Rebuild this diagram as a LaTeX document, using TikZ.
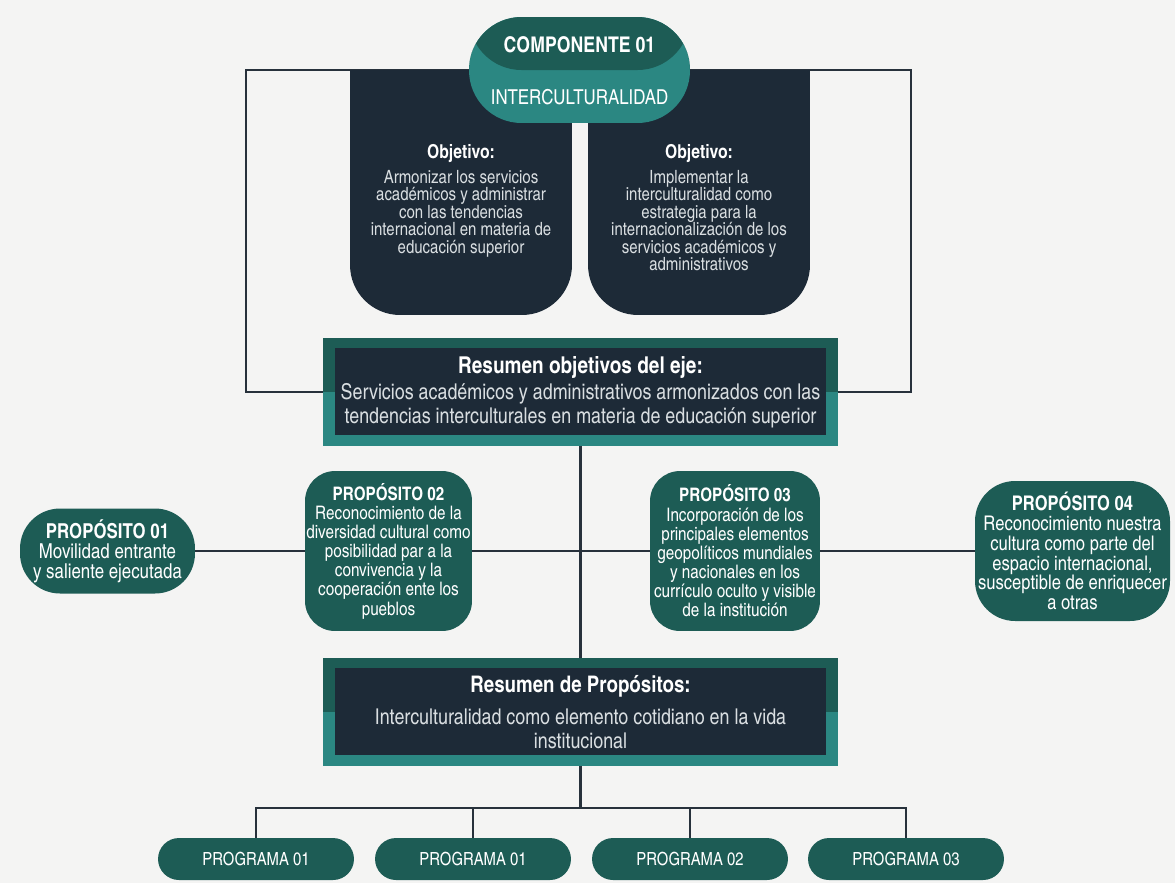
\documentclass[tikz,border=0pt]{standalone}
\usepackage{fontspec}
\setmainfont{texgyreheroscn}[Extension=.otf, UprightFont=*-regular, BoldFont=*-bold, ItalicFont=*-italic, BoldItalicFont=*-bolditalic]
\usetikzlibrary{positioning, calc}

\definecolor{tealdark}{HTML}{1D5C55}
\definecolor{teallight}{HTML}{2B8782}
\definecolor{navy}{HTML}{1D2A37}
\definecolor{wirecol}{HTML}{27313B}
\definecolor{papercol}{HTML}{F4F4F3}
\definecolor{softtext}{HTML}{D9DEE1}

\pgfdeclarelayer{paper}
\pgfdeclarelayer{wires}
\pgfsetlayers{paper,wires,main}

\begin{document}
\begin{tikzpicture}[x=0.02cm, y=-0.02cm,
  wire/.style={draw=wirecol, line width=1.6pt},
  objbox/.style={fill=navy, rounded corners=1cm, minimum width=4.44cm, minimum height=4.9cm, inner sep=0pt},
  objtxt/.style={text=softtext, align=center, font=\fontsize{10.4}{10}\selectfont, inner sep=0pt},
  pill/.style={fill=teallight, rounded corners=1.05cm, minimum width=4.42cm, minimum height=2.12cm, inner sep=0pt,
    path picture={\fill[tealdark] (path picture bounding box.north west) rectangle (path picture bounding box.east);}},
  resumen/.style={fill=teallight, minimum width=10.3cm, minimum height=2.16cm, inner sep=0pt, align=center,
    text=softtext, font=\fontsize{12.4}{13.6}\selectfont,
    path picture={
      \fill[tealdark] (path picture bounding box.north west) rectangle (path picture bounding box.east);
      \fill[navy] ($(path picture bounding box.north west)+(0.24cm,-0.2cm)$) rectangle ($(path picture bounding box.south east)+(-0.24cm,0.22cm)$);}},
  proposito/.style={fill=tealdark, text=white, align=center, inner sep=0pt, font=\fontsize{10.6}{10.9}\selectfont},
  programa/.style={fill=tealdark, text=white, minimum width=3.92cm, minimum height=0.84cm, rounded corners=0.42cm,
    inner sep=0pt, font=\fontsize{10.3}{12}\selectfont}
]

\useasboundingbox (0,0) rectangle (1175,883);
\begin{pgfonlayer}{paper}
  \fill[papercol] (0,0) rectangle (1175,883);
\end{pgfonlayer}

% objetivos
\node[objbox] (objA) at (461,192.5) {};
\fill[navy] (objA.north west) rectangle (objA.east);
\node[objbox] (objB) at (699,192.5) {};
\fill[navy] (objB.north west) rectangle (objB.east);

\node[objtxt, anchor=north] (objAtxt) at (461,144) {\textcolor{white}{\bfseries\fontsize{10.9}{10}\selectfont Objetivo:}\\[4pt]
  Armonizar los servicios\\ académicos y administrar\\ con las tendencias\\
  internacional en materia de\\ educación superior};
\node[objtxt, anchor=north] (objBtxt) at (699,144) {\textcolor{white}{\bfseries\fontsize{10.9}{10}\selectfont Objetivo:}\\[4pt]
  Implementar la\\ interculturalidad como\\ estrategia para la\\
  internacionalización de los\\ servicios académicos y\\ administrativos};

% componente
\node[pill] (comp) at (579.5,70) {};
\node[text=white, font=\bfseries\fontsize{12.3}{13}\selectfont] (compA) at ([yshift=0.5cm]comp.center) {COMPONENTE 01};
\node[text=white, font=\fontsize{11.7}{13}\selectfont] (compB) at ([yshift=-0.54cm]comp.center) {INTERCULTURALIDAD};

% resumenes
\node[resumen] (resA) at (580.5,392) {\textcolor{white}{\bfseries\fontsize{13.2}{14}\selectfont Resumen objetivos del eje:}\\[1pt]
  Servicios académicos y administrativos armonizados con las\\
  tendencias interculturales en materia de educación superior};
\node[resumen] (resB) at (580.5,712) {\textcolor{white}{\bfseries\fontsize{13}{14}\selectfont Resumen de Propósitos:}\\[4.5pt]
  Interculturalidad como elemento cotidiano en la vida\\ institucional};

% propositos
\node[proposito, minimum width=3.5cm, minimum height=1.7cm, rounded corners=0.8cm,
  font=\fontsize{11.7}{11.4}\selectfont] (p1) at (107.5,551)
  {\textbf{PROPÓSITO 01}\\ Movilidad entrante\\ y saliente ejecutada};
\node[proposito, minimum width=3.34cm, minimum height=3.2cm, rounded corners=0.6cm] (p2) at (388.5,551)
  {\textbf{PROPÓSITO 02}\\ Reconocimiento de la\\ diversidad cultural como\\ posibilidad par a la\\
   convivencia y la\\ cooperación ente los\\ pueblos};
\node[proposito, minimum width=3.4cm, minimum height=3.2cm, rounded corners=0.6cm] (p3) at (735,551)
  {\textbf{PROPÓSITO 03}\\ Incorporación de los\\ principales elementos\\ geopolíticos mundiales\\
   y nacionales en los\\ currículo oculto y visible\\ de la institución};
\node[proposito, minimum width=3.9cm, minimum height=2.8cm, rounded corners=0.8cm,
  font=\fontsize{11.5}{11.3}\selectfont] (p4) at (1072.5,551)
  {\textbf{PROPÓSITO 04}\\ Reconocimiento nuestra\\ cultura como parte del\\ espacio internacional,\\
   susceptible de enriquecer\\ a otras};

% programas
\node[programa] (prog1) at (256,859) {PROGRAMA 01};
\node[programa] (prog2) at (473,859) {PROGRAMA 01};
\node[programa] (prog3) at (690,859) {PROGRAMA 02};
\node[programa] (prog4) at (906,859) {PROGRAMA 03};

\coordinate (frameTL) at (246,70);
\coordinate (frameTR) at (911,70);
\coordinate (bus) at (580.5,808);

\begin{pgfonlayer}{wires}
  \draw[wire] (resA.west) -| (frameTL) -- (frameTR) |- (resA.east);
  \draw[wire] (resA.south) -- (resB.north);
  \draw[wire] (p1) -- (p2);
  \draw[wire] (p2) -- (p3);
  \draw[wire] (p3) -- (p4);
  \draw[wire] (resB.south) -- (bus);
  \draw[wire] (prog1.north) |- (bus) -| (prog4.north);
  \draw[wire] (prog2.north) -- (prog2.north |- bus);
  \draw[wire] (prog3.north) -- (prog3.north |- bus);
\end{pgfonlayer}

\end{tikzpicture}
\end{document}
